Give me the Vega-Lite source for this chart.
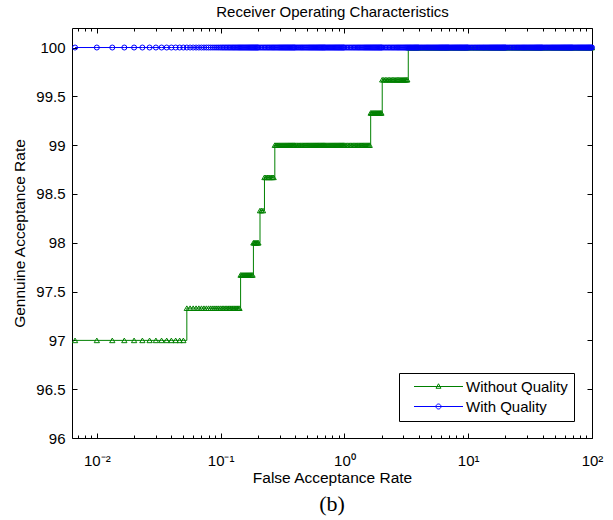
{
  "$schema": "https://vega.github.io/schema/vega-lite/v6.json",
  "width": 520,
  "height": 410,
  "autosize": {"type": "none"},
  "padding": {"left": 72, "top": 28, "right": 21, "bottom": 82},
  "background": "white",
  "config": {
    "view": {"stroke": null},
    "font": "Liberation Sans",
    "axis": {
      "labelFont": "Liberation Sans",
      "titleFont": "Liberation Sans",
      "labelFontSize": 15,
      "titleFontSize": 15.5,
      "titleFontWeight": "normal",
      "domainColor": "#000000",
      "tickColor": "#000000",
      "labelColor": "#000000",
      "titleColor": "#000000",
      "grid": false,
      "domainWidth": 1,
      "tickWidth": 1,
      "labelFlush": false,
      "labelOverlap": false
    }
  },
  "title": {"text": "(b)", "orient": "bottom", "font": "Liberation Serif", "fontSize": 22, "fontWeight": "normal", "color": "#000000", "offset": 8},
  "data": {
    "values": [
      {"x":0.006667,"g":97,"b":100},{"x":0.01,"g":97,"b":100},{"x":0.01333,"g":97,"b":100},{"x":0.01667,"g":97,"b":100},
      {"x":0.02,"g":97,"b":100},{"x":0.02333,"g":97,"b":100},{"x":0.02667,"g":97,"b":100},{"x":0.03,"g":97,"b":100},
      {"x":0.03333,"g":97,"b":100},{"x":0.03667,"g":97,"b":100},{"x":0.04,"g":97,"b":100},{"x":0.04333,"g":97,"b":100},
      {"x":0.04667,"g":97,"b":100},{"x":0.05,"g":97,"b":100},
      {"x":0.05333,"g":97.33,"b":100},{"x":0.05667,"g":97.33,"b":100},{"x":0.06,"g":97.33,"b":100},{"x":0.06333,"g":97.33,"b":100},
      {"x":0.06667,"g":97.33,"b":100},{"x":0.07,"g":97.33,"b":100},{"x":0.07333,"g":97.33,"b":100},{"x":0.07667,"g":97.33,"b":100},
      {"x":0.08,"g":97.33,"b":100},{"x":0.08333,"g":97.33,"b":100},{"x":0.08667,"g":97.33,"b":100},{"x":0.09,"g":97.33,"b":100},
      {"x":0.09333,"g":97.33,"b":100},{"x":0.09667,"g":97.33,"b":100},
      {"x":0.100,"g":97.33,"b":100},{"x":0.103,"g":97.33,"b":100},{"x":0.106,"g":97.33,"b":100},{"x":0.109,"g":97.33,"b":100},
      {"x":0.112,"g":97.33,"b":100},{"x":0.115,"g":97.33,"b":100},{"x":0.118,"g":97.33,"b":100},{"x":0.121,"g":97.33,"b":100},
      {"x":0.124,"g":97.33,"b":100},{"x":0.127,"g":97.33,"b":100},{"x":0.130,"g":97.33,"b":100},{"x":0.133,"g":97.33,"b":100},
      {"x":0.136,"g":97.33,"b":100},{"x":0.139,"g":97.33,"b":100},{"x":0.142,"g":97.33,"b":100},
      {"x":0.145,"g":97.67,"b":100},{"x":0.148,"g":97.67,"b":100},{"x":0.151,"g":97.67,"b":100},{"x":0.154,"g":97.67,"b":100},
      {"x":0.157,"g":97.67,"b":100},{"x":0.160,"g":97.67,"b":100},{"x":0.163,"g":97.67,"b":100},{"x":0.166,"g":97.67,"b":100},
      {"x":0.169,"g":97.67,"b":100},{"x":0.172,"g":97.67,"b":100},{"x":0.175,"g":97.67,"b":100},{"x":0.178,"g":97.67,"b":100},
      {"x":0.181,"g":97.67,"b":100},
      {"x":0.184,"g":98,"b":100},{"x":0.187,"g":98,"b":100},{"x":0.190,"g":98,"b":100},{"x":0.193,"g":98,"b":100},
      {"x":0.196,"g":98,"b":100},{"x":0.199,"g":98,"b":100},{"x":0.202,"g":98,"b":100},
      {"x":0.208,"g":98.33,"b":100},{"x":0.214,"g":98.33,"b":100},{"x":0.220,"g":98.33,"b":100},
      {"x":0.226,"g":98.67,"b":100},{"x":0.232,"g":98.67,"b":100},{"x":0.238,"g":98.67,"b":100},{"x":0.244,"g":98.67,"b":100},
      {"x":0.250,"g":98.67,"b":100},{"x":0.256,"g":98.67,"b":100},{"x":0.262,"g":98.67,"b":100},{"x":0.268,"g":98.67,"b":100},
      {"x":0.274,"g":99,"b":100},{"x":0.280,"g":99,"b":100},{"x":0.286,"g":99,"b":100},{"x":0.292,"g":99,"b":100},
      {"x":0.298,"g":99,"b":100},{"x":0.304,"g":99,"b":100},{"x":0.310,"g":99,"b":100},{"x":0.316,"g":99,"b":100},
      {"x":0.322,"g":99,"b":100},{"x":0.328,"g":99,"b":100},{"x":0.334,"g":99,"b":100},{"x":0.340,"g":99,"b":100},
      {"x":0.346,"g":99,"b":100},{"x":0.352,"g":99,"b":100},{"x":0.358,"g":99,"b":100},{"x":0.364,"g":99,"b":100},
      {"x":0.370,"g":99,"b":100},{"x":0.376,"g":99,"b":100},{"x":0.382,"g":99,"b":100},{"x":0.388,"g":99,"b":100},
      {"x":0.394,"g":99,"b":100},
      {"x":0.40,"g":99,"b":100},{"x":0.41,"g":99,"b":100},{"x":0.42,"g":99,"b":100},{"x":0.43,"g":99,"b":100},
      {"x":0.44,"g":99,"b":100},{"x":0.45,"g":99,"b":100},{"x":0.46,"g":99,"b":100},{"x":0.47,"g":99,"b":100},
      {"x":0.48,"g":99,"b":100},{"x":0.49,"g":99,"b":100},{"x":0.50,"g":99,"b":100},{"x":0.51,"g":99,"b":100},
      {"x":0.52,"g":99,"b":100},{"x":0.53,"g":99,"b":100},{"x":0.54,"g":99,"b":100},{"x":0.55,"g":99,"b":100},
      {"x":0.56,"g":99,"b":100},{"x":0.57,"g":99,"b":100},{"x":0.58,"g":99,"b":100},{"x":0.59,"g":99,"b":100},
      {"x":0.60,"g":99,"b":100},{"x":0.61,"g":99,"b":100},{"x":0.62,"g":99,"b":100},{"x":0.63,"g":99,"b":100},
      {"x":0.64,"g":99,"b":100},{"x":0.65,"g":99,"b":100},{"x":0.66,"g":99,"b":100},{"x":0.67,"g":99,"b":100},
      {"x":0.68,"g":99,"b":100},{"x":0.69,"g":99,"b":100},
      {"x":0.700,"g":99,"b":100},{"x":0.715,"g":99,"b":100},{"x":0.730,"g":99,"b":100},{"x":0.745,"g":99,"b":100},
      {"x":0.760,"g":99,"b":100},{"x":0.775,"g":99,"b":100},{"x":0.790,"g":99,"b":100},{"x":0.805,"g":99,"b":100},
      {"x":0.820,"g":99,"b":100},{"x":0.835,"g":99,"b":100},{"x":0.850,"g":99,"b":100},{"x":0.865,"g":99,"b":100},
      {"x":0.880,"g":99,"b":100},{"x":0.895,"g":99,"b":100},{"x":0.910,"g":99,"b":100},{"x":0.925,"g":99,"b":100},
      {"x":0.940,"g":99,"b":100},{"x":0.955,"g":99,"b":100},{"x":0.970,"g":99,"b":100},{"x":0.985,"g":99,"b":100},
      {"x":1.00,"g":99,"b":100},{"x":1.03,"g":99,"b":100},{"x":1.06,"g":99,"b":100},{"x":1.09,"g":99,"b":100},
      {"x":1.12,"g":99,"b":100},{"x":1.15,"g":99,"b":100},{"x":1.18,"g":99,"b":100},{"x":1.21,"g":99,"b":100},
      {"x":1.24,"g":99,"b":100},{"x":1.27,"g":99,"b":100},{"x":1.30,"g":99,"b":100},{"x":1.33,"g":99,"b":100},
      {"x":1.36,"g":99,"b":100},{"x":1.39,"g":99,"b":100},{"x":1.42,"g":99,"b":100},{"x":1.45,"g":99,"b":100},
      {"x":1.48,"g":99,"b":100},{"x":1.51,"g":99,"b":100},{"x":1.54,"g":99,"b":100},{"x":1.57,"g":99,"b":100},
      {"x":1.60,"g":99,"b":100},
      {"x":1.63,"g":99.33,"b":100},{"x":1.66,"g":99.33,"b":100},{"x":1.69,"g":99.33,"b":100},{"x":1.72,"g":99.33,"b":100},
      {"x":1.75,"g":99.33,"b":100},{"x":1.78,"g":99.33,"b":100},{"x":1.81,"g":99.33,"b":100},{"x":1.84,"g":99.33,"b":100},
      {"x":1.87,"g":99.33,"b":100},{"x":1.90,"g":99.33,"b":100},{"x":1.93,"g":99.33,"b":100},{"x":1.96,"g":99.33,"b":100},
      {"x":1.99,"g":99.33,"b":100},
      {"x":2.02,"g":99.67,"b":100},{"x":2.08,"g":99.67,"b":100},{"x":2.14,"g":99.67,"b":100},{"x":2.20,"g":99.67,"b":100},
      {"x":2.26,"g":99.67,"b":100},{"x":2.32,"g":99.67,"b":100},{"x":2.38,"g":99.67,"b":100},{"x":2.44,"g":99.67,"b":100},
      {"x":2.50,"g":99.67,"b":100},{"x":2.56,"g":99.67,"b":100},{"x":2.62,"g":99.67,"b":100},{"x":2.68,"g":99.67,"b":100},
      {"x":2.74,"g":99.67,"b":100},{"x":2.80,"g":99.67,"b":100},{"x":2.86,"g":99.67,"b":100},{"x":2.92,"g":99.67,"b":100},
      {"x":2.98,"g":99.67,"b":100},{"x":3.04,"g":99.67,"b":100},{"x":3.10,"g":99.67,"b":100},{"x":3.16,"g":99.67,"b":100},
      {"x":3.22,"g":99.67,"b":100},
      {"x":3.28,"g":100,"b":100},{"x":3.34,"g":100,"b":100},{"x":3.40,"g":100,"b":100},{"x":3.46,"g":100,"b":100},
      {"x":3.52,"g":100,"b":100},{"x":3.58,"g":100,"b":100},{"x":3.64,"g":100,"b":100},{"x":3.70,"g":100,"b":100},
      {"x":3.76,"g":100,"b":100},{"x":3.82,"g":100,"b":100},{"x":3.88,"g":100,"b":100},{"x":3.94,"g":100,"b":100},
      {"x":4.0,"g":100,"b":100},{"x":4.1,"g":100,"b":100},{"x":4.2,"g":100,"b":100},{"x":4.3,"g":100,"b":100},
      {"x":4.4,"g":100,"b":100},{"x":4.5,"g":100,"b":100},{"x":4.6,"g":100,"b":100},{"x":4.7,"g":100,"b":100},
      {"x":4.8,"g":100,"b":100},{"x":4.9,"g":100,"b":100},{"x":5.0,"g":100,"b":100},{"x":5.1,"g":100,"b":100},
      {"x":5.2,"g":100,"b":100},{"x":5.3,"g":100,"b":100},{"x":5.4,"g":100,"b":100},{"x":5.5,"g":100,"b":100},
      {"x":5.6,"g":100,"b":100},{"x":5.7,"g":100,"b":100},{"x":5.8,"g":100,"b":100},{"x":5.9,"g":100,"b":100},
      {"x":6.0,"g":100,"b":100},{"x":6.1,"g":100,"b":100},{"x":6.2,"g":100,"b":100},{"x":6.3,"g":100,"b":100},
      {"x":6.4,"g":100,"b":100},{"x":6.5,"g":100,"b":100},{"x":6.6,"g":100,"b":100},{"x":6.7,"g":100,"b":100},
      {"x":6.8,"g":100,"b":100},{"x":6.9,"g":100,"b":100},
      {"x":7.0,"g":100,"b":100},{"x":7.15,"g":100,"b":100},{"x":7.3,"g":100,"b":100},{"x":7.45,"g":100,"b":100},
      {"x":7.6,"g":100,"b":100},{"x":7.75,"g":100,"b":100},{"x":7.9,"g":100,"b":100},{"x":8.05,"g":100,"b":100},
      {"x":8.2,"g":100,"b":100},{"x":8.35,"g":100,"b":100},{"x":8.5,"g":100,"b":100},{"x":8.65,"g":100,"b":100},
      {"x":8.8,"g":100,"b":100},{"x":8.95,"g":100,"b":100},{"x":9.1,"g":100,"b":100},{"x":9.25,"g":100,"b":100},
      {"x":9.4,"g":100,"b":100},{"x":9.55,"g":100,"b":100},{"x":9.7,"g":100,"b":100},{"x":9.85,"g":100,"b":100},
      {"x":10.0,"g":100,"b":100},{"x":10.3,"g":100,"b":100},{"x":10.6,"g":100,"b":100},{"x":10.9,"g":100,"b":100},
      {"x":11.2,"g":100,"b":100},{"x":11.5,"g":100,"b":100},{"x":11.8,"g":100,"b":100},{"x":12.1,"g":100,"b":100},
      {"x":12.4,"g":100,"b":100},{"x":12.7,"g":100,"b":100},{"x":13.0,"g":100,"b":100},{"x":13.3,"g":100,"b":100},
      {"x":13.6,"g":100,"b":100},{"x":13.9,"g":100,"b":100},{"x":14.2,"g":100,"b":100},{"x":14.5,"g":100,"b":100},
      {"x":14.8,"g":100,"b":100},{"x":15.1,"g":100,"b":100},{"x":15.4,"g":100,"b":100},{"x":15.7,"g":100,"b":100},
      {"x":16.0,"g":100,"b":100},{"x":16.3,"g":100,"b":100},{"x":16.6,"g":100,"b":100},{"x":16.9,"g":100,"b":100},
      {"x":17.2,"g":100,"b":100},{"x":17.5,"g":100,"b":100},{"x":17.8,"g":100,"b":100},{"x":18.1,"g":100,"b":100},
      {"x":18.4,"g":100,"b":100},{"x":18.7,"g":100,"b":100},{"x":19.0,"g":100,"b":100},{"x":19.3,"g":100,"b":100},
      {"x":19.6,"g":100,"b":100},{"x":19.9,"g":100,"b":100},
      {"x":20.2,"g":100,"b":100},{"x":20.8,"g":100,"b":100},{"x":21.4,"g":100,"b":100},{"x":22.0,"g":100,"b":100},
      {"x":22.6,"g":100,"b":100},{"x":23.2,"g":100,"b":100},{"x":23.8,"g":100,"b":100},{"x":24.4,"g":100,"b":100},
      {"x":25.0,"g":100,"b":100},{"x":25.6,"g":100,"b":100},{"x":26.2,"g":100,"b":100},{"x":26.8,"g":100,"b":100},
      {"x":27.4,"g":100,"b":100},{"x":28.0,"g":100,"b":100},{"x":28.6,"g":100,"b":100},{"x":29.2,"g":100,"b":100},
      {"x":29.8,"g":100,"b":100},{"x":30.4,"g":100,"b":100},{"x":31.0,"g":100,"b":100},{"x":31.6,"g":100,"b":100},
      {"x":32.2,"g":100,"b":100},{"x":32.8,"g":100,"b":100},{"x":33.4,"g":100,"b":100},{"x":34.0,"g":100,"b":100},
      {"x":34.6,"g":100,"b":100},{"x":35.2,"g":100,"b":100},{"x":35.8,"g":100,"b":100},{"x":36.4,"g":100,"b":100},
      {"x":37.0,"g":100,"b":100},{"x":37.6,"g":100,"b":100},{"x":38.2,"g":100,"b":100},{"x":38.8,"g":100,"b":100},
      {"x":39.4,"g":100,"b":100},
      {"x":40,"g":100,"b":100},{"x":41,"g":100,"b":100},{"x":42,"g":100,"b":100},{"x":43,"g":100,"b":100},
      {"x":44,"g":100,"b":100},{"x":45,"g":100,"b":100},{"x":46,"g":100,"b":100},{"x":47,"g":100,"b":100},
      {"x":48,"g":100,"b":100},{"x":49,"g":100,"b":100},{"x":50,"g":100,"b":100},{"x":51,"g":100,"b":100},
      {"x":52,"g":100,"b":100},{"x":53,"g":100,"b":100},{"x":54,"g":100,"b":100},{"x":55,"g":100,"b":100},
      {"x":56,"g":100,"b":100},{"x":57,"g":100,"b":100},{"x":58,"g":100,"b":100},{"x":59,"g":100,"b":100},
      {"x":60,"g":100,"b":100},{"x":61,"g":100,"b":100},{"x":62,"g":100,"b":100},{"x":63,"g":100,"b":100},
      {"x":64,"g":100,"b":100},{"x":65,"g":100,"b":100},{"x":66,"g":100,"b":100},{"x":67,"g":100,"b":100},
      {"x":68,"g":100,"b":100},{"x":69,"g":100,"b":100},
      {"x":70.0,"g":100,"b":100},{"x":71.5,"g":100,"b":100},{"x":73.0,"g":100,"b":100},{"x":74.5,"g":100,"b":100},
      {"x":76.0,"g":100,"b":100},{"x":77.5,"g":100,"b":100},{"x":79.0,"g":100,"b":100},{"x":80.5,"g":100,"b":100},
      {"x":82.0,"g":100,"b":100},{"x":83.5,"g":100,"b":100},{"x":85.0,"g":100,"b":100},{"x":86.5,"g":100,"b":100},
      {"x":88.0,"g":100,"b":100},{"x":89.5,"g":100,"b":100},{"x":91.0,"g":100,"b":100},{"x":92.5,"g":100,"b":100},
      {"x":94.0,"g":100,"b":100},{"x":95.5,"g":100,"b":100},{"x":97.0,"g":100,"b":100},{"x":98.5,"g":100,"b":100},
      {"x":100,"g":100,"b":100}
    ]
  },
  "layer": [
    {
      "mark": {"type": "line", "color": "#008000", "strokeWidth": 1, "interpolate": "step-after"},
      "encoding": {
        "x": {
          "field": "x", "type": "quantitative",
          "scale": {"type": "log", "domain": [0.0063, 100], "nice": false},
          "axis": {
            "orient": "bottom",
            "values": [0.01, 0.1, 1, 10, 100],
            "labelExpr": "datum.value < 0.05 ? '10⁻²' : datum.value < 0.5 ? '10⁻¹' : datum.value < 5 ? '10⁰' : datum.value < 50 ? '10¹' : '10²'",
            "tickSize": -5,
            "labelPadding": 20,
            "title": "False Acceptance Rate",
            "titlePadding": 2
          }
        },
        "y": {
          "field": "g", "type": "quantitative",
          "scale": {"domain": [96, 100.2], "nice": false, "zero": false},
          "axis": {
            "orient": "left",
            "values": [96, 96.5, 97, 97.5, 98, 98.5, 99, 99.5, 100],
            "format": "~g",
            "tickSize": -5,
            "labelPadding": 12,
            "title": "Gennuine Acceptance Rate",
            "titlePadding": 8
          }
        }
      }
    },
    {
      "mark": {"type": "point", "shape": "triangle-up", "filled": false, "color": "#008000", "size": 28, "strokeWidth": 1, "opacity": 1},
      "encoding": {
        "x": {
          "field": "x", "type": "quantitative",
          "axis": {
            "orient": "bottom",
            "values": [0.007, 0.008, 0.009, 0.02, 0.03, 0.04, 0.05, 0.06, 0.07, 0.08, 0.09, 0.2, 0.3, 0.4, 0.5, 0.6, 0.7, 0.8, 0.9, 2, 3, 4, 5, 6, 7, 8, 9, 20, 30, 40, 50, 60, 70, 80, 90],
            "labels": false, "domain": false, "tickSize": -3, "title": null
          }
        },
        "y": {"field": "g", "type": "quantitative", "axis": null}
      }
    },
    {
      "mark": {"type": "line", "color": "#0000ff", "strokeWidth": 1},
      "encoding": {
        "x": {
          "field": "x", "type": "quantitative",
          "axis": {
            "orient": "top",
            "values": [0.01, 0.1, 1, 10, 100],
            "labels": false,
            "tickSize": -5,
            "title": "Receiver Operating Characteristics",
            "titleFontSize": 15,
            "titlePadding": 8
          }
        },
        "y": {
          "field": "b", "type": "quantitative",
          "axis": {
            "orient": "right",
            "values": [96, 96.5, 97, 97.5, 98, 98.5, 99, 99.5, 100],
            "labels": false, "tickSize": -5, "title": null
          }
        }
      }
    },
    {
      "mark": {"type": "point", "shape": "circle", "filled": false, "color": "#0000ff", "size": 25, "strokeWidth": 1, "opacity": 1},
      "encoding": {
        "x": {
          "field": "x", "type": "quantitative",
          "axis": {
            "orient": "top",
            "values": [0.007, 0.008, 0.009, 0.02, 0.03, 0.04, 0.05, 0.06, 0.07, 0.08, 0.09, 0.2, 0.3, 0.4, 0.5, 0.6, 0.7, 0.8, 0.9, 2, 3, 4, 5, 6, 7, 8, 9, 20, 30, 40, 50, 60, 70, 80, 90],
            "labels": false, "domain": false, "tickSize": -3, "title": null
          }
        },
        "y": {"field": "b", "type": "quantitative", "axis": null}
      }
    },
    {
      "data": {"values": [{"series": "Without Quality"}, {"series": "With Quality"}]},
      "mark": {"type": "point", "filled": false, "opacity": 0},
      "encoding": {
        "color": {
          "field": "series", "type": "nominal",
          "scale": {"domain": ["Without Quality", "With Quality"], "range": ["#008000", "#0000ff"]},
          "legend": {
            "title": null,
            "orient": "none",
            "legendX": 327,
            "legendY": 345,
            "strokeColor": "#000000",
            "fillColor": "#ffffff",
            "padding": 6,
            "cornerRadius": 0,
            "labelFont": "Liberation Sans",
            "labelFontSize": 15,
            "labelColor": "#000000",
            "symbolSize": 100,
            "symbolStrokeWidth": 1,
            "symbolOffset": 26,
            "labelOffset": 20,
            "rowPadding": 4,
            "encode": {"symbols": {"update": {"opacity": {"value": 1}, "fill": {"value": "transparent"}}}}
          }
        },
        "shape": {
          "field": "series", "type": "nominal",
          "scale": {"domain": ["Without Quality", "With Quality"], "range": ["M-4.9,0H4.9M0,-0.55L0.5,0.35L-0.5,0.35Z", "M-4.9,0H4.9M0.5,0A0.5,0.5,0,1,1,-0.5,0A0.5,0.5,0,1,1,0.5,0"]},
          "legend": {
            "title": null,
            "orient": "none",
            "legendX": 327,
            "legendY": 345,
            "strokeColor": "#000000",
            "fillColor": "#ffffff",
            "padding": 6,
            "cornerRadius": 0,
            "labelFont": "Liberation Sans",
            "labelFontSize": 15,
            "labelColor": "#000000",
            "symbolSize": 100,
            "symbolStrokeWidth": 1,
            "symbolOffset": 26,
            "labelOffset": 20,
            "rowPadding": 4,
            "encode": {"symbols": {"update": {"opacity": {"value": 1}, "fill": {"value": "transparent"}}}}
          }
        }
      }
    }
  ],
  "resolve": {"axis": {"x": "independent", "y": "independent"}}
}
